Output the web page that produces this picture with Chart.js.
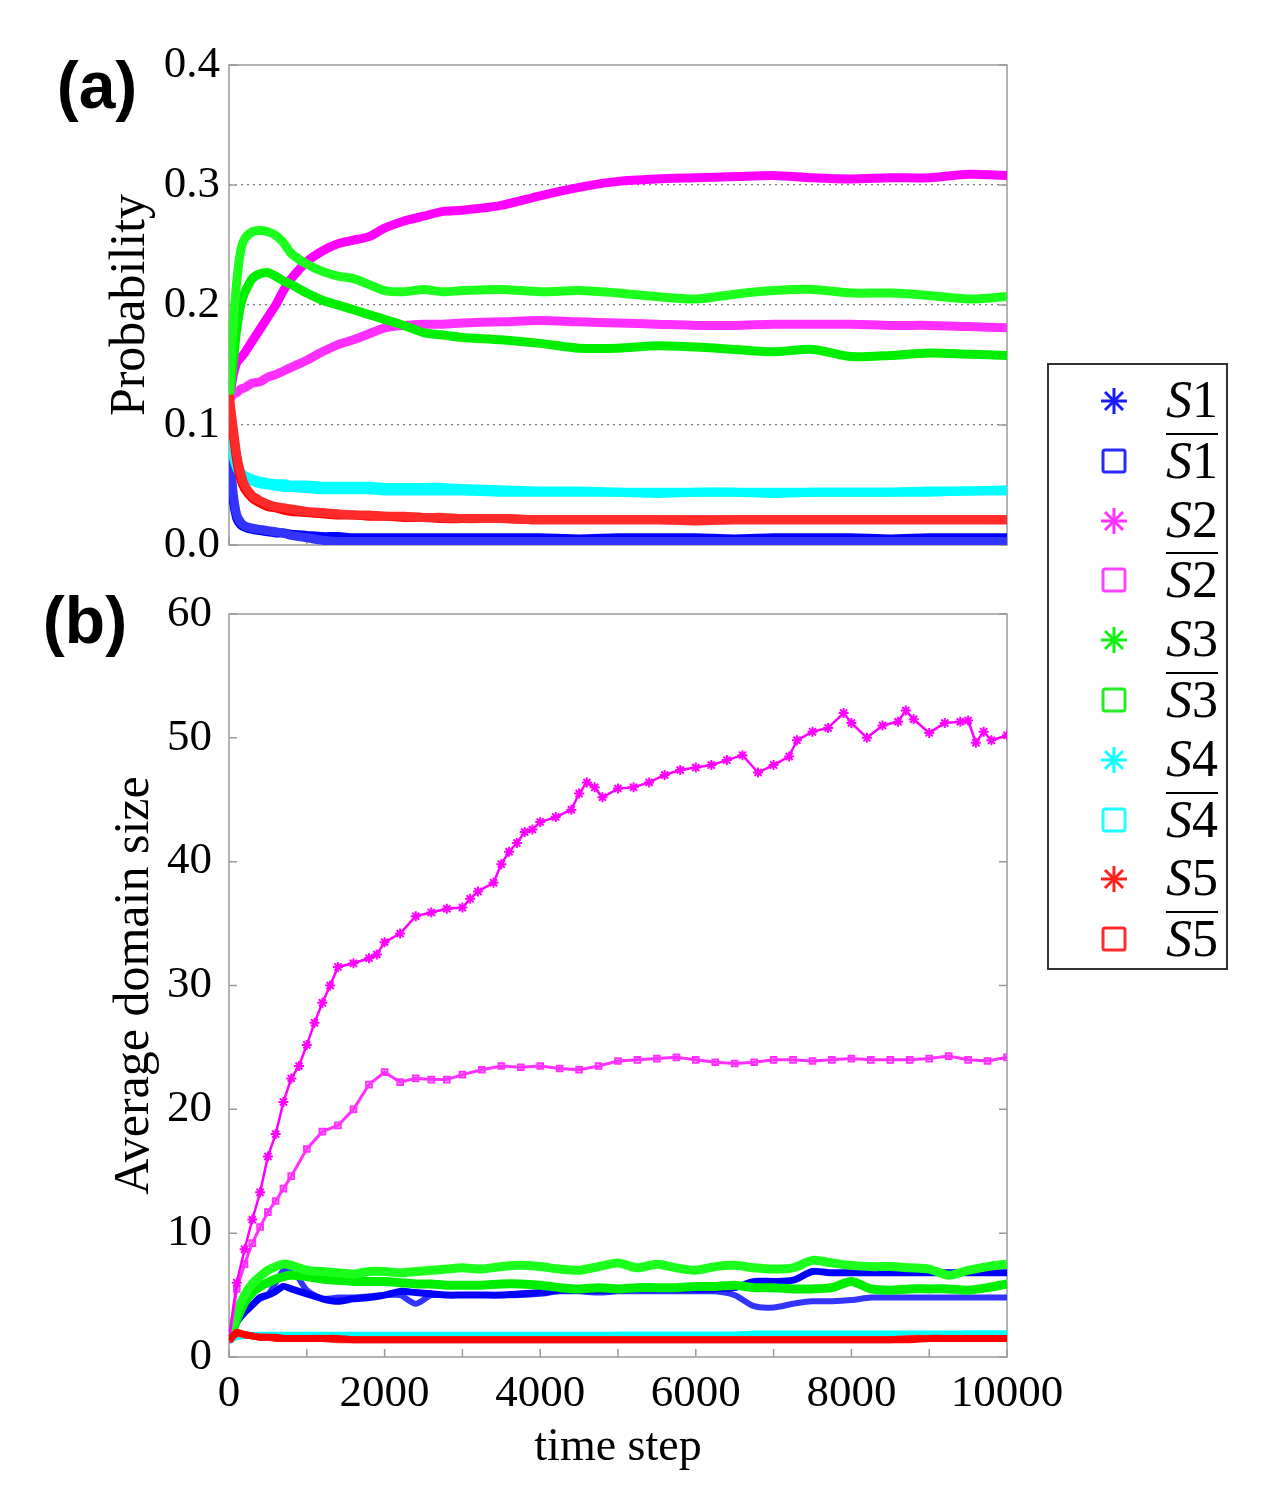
<!DOCTYPE html>
<html>
<head>
<meta charset="utf-8">
<script src="https://cdn.jsdelivr.net/npm/chart.js@4.4.0/dist/chart.umd.min.js"></script>
<style>
  body { margin: 0; background: #fff; }
  #wrap { position: relative; width: 1274px; height: 1500px; }
  canvas { position: absolute; left: 0; }
  .panel { position: absolute; font: bold 66px "Liberation Sans", Arial, sans-serif; line-height: 1; transform: translate(-50%, -50%); }
  #legend { position: absolute; left: 1047px; top: 363px; width: 177px; height: 603px; border: 2px solid #333; background: #fff; }
  .row { position: absolute; left: 0; width: 177px; height: 60px; display: flex; align-items: center; }
  .row svg { position: absolute; left: 51px; top: 17px; }
  .row .txt { position: absolute; right: 8px; font: 52px "Liberation Serif", "Times New Roman", serif; line-height: 52px; }
  .row .bar { border-top: 2.5px solid #000; }
</style>
</head>
<body>
<div id="wrap">
  <canvas id="chartA" width="1080" height="580" style="top:0"></canvas>
  <canvas id="chartB" width="1080" height="920" style="top:580px"></canvas>
  <div class="panel" style="left:97px;top:85px">(a)</div>
  <div class="panel" style="left:85px;top:620px">(b)</div>
  <div id="legend"></div>
</div>
<script>
// ---- panel (a): probability vs time step ----
const tA = [0, 50, 100, 150, 200, 300, 400, 500, 600, 700, 800, 1000, 1200, 1400, 1600, 1800, 2000,
  2250, 2500, 2750, 3000, 3500, 4000, 4500, 5000, 5500, 6000, 6500, 7000, 7500, 8000, 8500, 9000, 9500, 10000];

const pS1 = [0.085, 0.040, 0.022, 0.017, 0.015, 0.013, 0.012, 0.011, 0.010, 0.010, 0.009, 0.008, 0.007, 0.007, 0.006, 0.006, 0.006,
  0.006, 0.006, 0.006, 0.006, 0.006, 0.006, 0.005, 0.006, 0.006, 0.006, 0.005, 0.006, 0.006, 0.006, 0.005, 0.006, 0.006, 0.006];
const pS1bar = [0.085, 0.045, 0.025, 0.019, 0.016, 0.014, 0.013, 0.012, 0.011, 0.010, 0.008, 0.006, 0.004, 0.003, 0.003, 0.003, 0.003,
  0.003, 0.003, 0.003, 0.003, 0.003, 0.003, 0.003, 0.003, 0.003, 0.003, 0.003, 0.003, 0.003, 0.003, 0.003, 0.003, 0.003, 0.003];
const pS2 = [0.120, 0.140, 0.152, 0.156, 0.160, 0.170, 0.180, 0.190, 0.200, 0.212, 0.222, 0.236, 0.245, 0.251, 0.254, 0.257, 0.264,
  0.270, 0.274, 0.278, 0.279, 0.283, 0.291, 0.298, 0.303, 0.305, 0.306, 0.307, 0.308, 0.306, 0.305, 0.306, 0.306, 0.309, 0.308];
const pS2bar = [0.120, 0.125, 0.127, 0.130, 0.131, 0.135, 0.136, 0.140, 0.142, 0.145, 0.148, 0.154, 0.161, 0.167, 0.171, 0.176, 0.181,
  0.183, 0.184, 0.184, 0.185, 0.186, 0.187, 0.186, 0.185, 0.184, 0.183, 0.183, 0.184, 0.184, 0.184, 0.183, 0.183, 0.182, 0.181];
const pS3 = [0.120, 0.150, 0.180, 0.200, 0.210, 0.222, 0.226, 0.227, 0.224, 0.220, 0.217, 0.210, 0.204, 0.200, 0.196, 0.192, 0.188,
  0.183, 0.177, 0.175, 0.173, 0.171, 0.168, 0.164, 0.164, 0.166, 0.165, 0.163, 0.161, 0.163, 0.157, 0.158, 0.160, 0.159, 0.158];
const pS3bar = [0.120, 0.180, 0.220, 0.245, 0.255, 0.261, 0.262, 0.261, 0.258, 0.252, 0.243, 0.234, 0.228, 0.224, 0.222, 0.217, 0.212,
  0.211, 0.213, 0.211, 0.212, 0.213, 0.211, 0.212, 0.210, 0.207, 0.205, 0.209, 0.212, 0.213, 0.210, 0.210, 0.208, 0.205, 0.207];
const pS4 = [0.098, 0.075, 0.064, 0.059, 0.056, 0.053, 0.051, 0.050, 0.049, 0.048, 0.048, 0.047, 0.046, 0.046, 0.046, 0.046, 0.045,
  0.045, 0.045, 0.045, 0.045, 0.044, 0.044, 0.044, 0.044, 0.043, 0.044, 0.044, 0.043, 0.044, 0.044, 0.044, 0.044, 0.045, 0.045];
const pS4bar = [0.098, 0.078, 0.066, 0.061, 0.058, 0.055, 0.053, 0.052, 0.051, 0.051, 0.050, 0.050, 0.049, 0.049, 0.049, 0.049, 0.048,
  0.048, 0.048, 0.048, 0.047, 0.046, 0.045, 0.045, 0.044, 0.044, 0.044, 0.044, 0.044, 0.044, 0.044, 0.044, 0.045, 0.045, 0.046];
const pS5 = [0.125, 0.095, 0.070, 0.055, 0.047, 0.039, 0.035, 0.032, 0.031, 0.029, 0.028, 0.027, 0.026, 0.025, 0.025, 0.024, 0.024,
  0.023, 0.023, 0.022, 0.022, 0.022, 0.021, 0.021, 0.021, 0.021, 0.021, 0.021, 0.021, 0.021, 0.021, 0.021, 0.021, 0.021, 0.021];
const pS5bar = [0.125, 0.100, 0.075, 0.060, 0.050, 0.041, 0.037, 0.034, 0.032, 0.031, 0.030, 0.028, 0.027, 0.026, 0.025, 0.025, 0.024,
  0.024, 0.023, 0.023, 0.022, 0.022, 0.021, 0.021, 0.021, 0.021, 0.020, 0.021, 0.021, 0.021, 0.021, 0.021, 0.021, 0.021, 0.021];

// ---- panel (b): average domain size vs time step ----
const tB = [0, 100, 200, 300, 400, 500, 600, 700, 800,
  1000, 1200, 1400, 1600, 1800, 2000, 2200, 2400, 2600, 2800, 3000,
  3250, 3500, 3750, 4000, 4250, 4500, 4750,
  5000, 5250, 5500, 5750, 6000, 6250, 6500,
  6750, 7000, 7250, 7500, 7750, 8000, 8250,
  8500, 8750, 9000, 9250, 9500, 9750, 10000];

const dS1 = [1.3, 2.8, 3.6, 4.2, 4.8, 5.0, 5.3, 5.7, 5.5,
  5.1, 4.7, 4.5, 4.7, 4.8, 5.0, 5.3, 5.2, 5.1, 5.0, 5.0,
  5.0, 5.0, 5.1, 5.2, 5.4, 5.4, 5.4,
  5.4, 5.5, 5.5, 5.5, 5.5, 5.5, 5.6,
  6.1, 6.1, 6.2, 6.9, 6.8, 6.8, 6.8,
  6.8, 6.8, 6.8, 6.8, 6.8, 6.8, 6.8];
const dS1bar = [1.3, 2.8, 3.6, 4.2, 4.7, 5.0, 6.0, 7.0, 7.2,
  5.4, 4.7, 4.8, 4.8, 4.9, 5.0, 5.0, 4.3, 5.0, 5.0, 5.0,
  5.0, 5.0, 5.0, 5.1, 5.3, 5.3, 5.2,
  5.3, 5.3, 5.3, 5.3, 5.3, 5.3, 5.0,
  4.1, 4.0, 4.3, 4.5, 4.5, 4.6, 4.8,
  4.8, 4.8, 4.8, 4.8, 4.8, 4.8, 4.8];
const dS2bar = [1.5, 5.5, 7.5, 9.2, 10.5, 11.7, 12.6, 13.6, 14.6,
  16.8, 18.2, 18.7, 20.0, 22.0, 23.0, 22.2, 22.5, 22.4, 22.4, 22.8,
  23.2, 23.5, 23.4, 23.5, 23.3, 23.2, 23.5,
  23.9, 24.0, 24.1, 24.2, 24.0, 23.8, 23.7,
  23.8, 24.0, 24.0, 23.9, 24.0, 24.1, 24.0,
  24.0, 24.0, 24.1, 24.3, 24.0, 23.9, 24.2];
const dS3 = [1.3, 3.0, 4.4, 5.2, 5.7, 6.0, 6.3, 6.5, 6.6,
  6.5, 6.3, 6.2, 6.1, 6.1, 6.1, 6.0, 5.9, 5.9, 5.8, 5.8,
  5.8, 5.9, 5.9, 5.8, 5.6, 5.5, 5.6,
  5.5, 5.6, 5.6, 5.6, 5.7, 5.7, 5.8,
  5.6, 5.6, 5.5, 5.5, 5.6, 6.1, 5.5,
  5.4, 5.5, 5.5, 5.5, 5.4, 5.6, 5.9];
const dS3bar = [1.3, 3.5, 5.0, 5.9, 6.5, 7.0, 7.3, 7.5, 7.4,
  7.0, 6.9, 6.8, 6.7, 6.9, 6.9, 6.8, 6.9, 7.0, 7.1, 7.2,
  7.1, 7.3, 7.4, 7.3, 7.1, 7.0, 7.3,
  7.6, 7.2, 7.5, 7.2, 7.0, 7.3, 7.4,
  7.2, 7.1, 7.2, 7.8, 7.6, 7.4, 7.3,
  7.3, 7.2, 7.1, 6.6, 7.0, 7.3, 7.5];
const dS4 = [1.3, 1.6, 1.7, 1.7, 1.7, 1.7, 1.7, 1.7, 1.7,
  1.7, 1.7, 1.7, 1.7, 1.7, 1.7, 1.7, 1.7, 1.7, 1.7, 1.7,
  1.7, 1.7, 1.7, 1.7, 1.7, 1.7, 1.7,
  1.8, 1.8, 1.8, 1.8, 1.8, 1.8, 1.8,
  1.8, 1.8, 1.8, 1.8, 1.8, 1.8, 1.8,
  1.8, 1.8, 1.8, 1.8, 1.9, 1.9, 1.9];
const dS4bar = [1.3, 1.7, 1.8, 1.8, 1.8, 1.8, 1.8, 1.8, 1.8,
  1.8, 1.8, 1.8, 1.8, 1.8, 1.8, 1.8, 1.8, 1.8, 1.8, 1.8,
  1.8, 1.8, 1.8, 1.8, 1.8, 1.8, 1.8,
  1.8, 1.8, 1.8, 1.8, 1.8, 1.8, 1.8,
  1.9, 1.9, 1.9, 1.9, 1.9, 1.9, 1.9,
  1.9, 1.9, 1.9, 1.9, 1.9, 1.9, 1.9];
const dS5 = [1.3, 2.0, 1.8, 1.7, 1.6, 1.6, 1.6, 1.5, 1.5,
  1.5, 1.5, 1.5, 1.4, 1.4, 1.4, 1.4, 1.4, 1.4, 1.4, 1.4,
  1.4, 1.4, 1.4, 1.4, 1.4, 1.4, 1.4,
  1.4, 1.4, 1.4, 1.4, 1.4, 1.4, 1.4,
  1.4, 1.4, 1.4, 1.4, 1.4, 1.4, 1.4,
  1.4, 1.4, 1.5, 1.5, 1.5, 1.5, 1.5];
const dS5bar = [1.3, 1.9, 1.8, 1.7, 1.6, 1.6, 1.5, 1.5, 1.5,
  1.5, 1.5, 1.4, 1.4, 1.4, 1.4, 1.4, 1.4, 1.4, 1.4, 1.4,
  1.4, 1.4, 1.4, 1.4, 1.4, 1.4, 1.4,
  1.4, 1.4, 1.4, 1.4, 1.4, 1.4, 1.4,
  1.4, 1.4, 1.4, 1.4, 1.4, 1.4, 1.4,
  1.4, 1.5, 1.5, 1.5, 1.5, 1.5, 1.5];

// S2 (stars) in panel (b) jumps around, so it has its own time axis
const tS2 = [0, 100, 200, 300, 400, 500, 600, 700, 800, 900, 1000, 1100, 1200, 1300, 1400,
  1600, 1800, 1900, 2000, 2200, 2400, 2600, 2800, 3000,
  3100, 3200, 3400, 3500, 3600, 3700, 3800, 3900, 4000,
  4200, 4400, 4500, 4600, 4700, 4800, 5000,
  5200, 5400, 5600, 5800, 6000, 6200, 6400, 6600, 6800, 7000,
  7200, 7300, 7500, 7700, 7900, 8000,
  8200, 8400, 8600, 8700, 8800, 9000,
  9200, 9400, 9500, 9600, 9700, 9800, 10000];
const dS2 = [1.5, 6, 8.7, 11.1, 13.3, 16.2, 18, 20.6, 22.5, 23.5, 25.2, 27, 28.6, 30, 31.5,
  31.8, 32.2, 32.5, 33.5, 34.2, 35.6, 35.9, 36.2, 36.3,
  37, 37.6, 38.3, 39.8, 40.8, 41.5, 42.4, 42.6, 43.2,
  43.6, 44.2, 45.5, 46.4, 46, 45.2, 45.9,
  46, 46.4, 47, 47.4, 47.6, 47.8, 48.2, 48.6, 47.2, 47.8,
  48.5, 49.8, 50.5, 50.8, 52, 51.2,
  50, 51, 51.3, 52.2, 51.5, 50.4,
  51.2, 51.3, 51.4, 49.6, 50.5, 49.8, 50.2];

const xTicksB = [0, 2000, 4000, 6000, 8000, 10000];

const BLUE = '#0000ff', BLUE2 = '#3434ff', MAG = '#ff00ff', MAG2 = '#ff30ff';
const GRN = '#00ee00', GRN2 = '#1cff1c', CYA = '#00ffff', RED = '#ff0000', RED2 = '#ff2a2a';

const serif = '"Liberation Serif", "Times New Roman", serif';

function line(t, v, color, width, order) {
  return {
    data: t.map((x, i) => ({ x, y: v[i] })),
    borderColor: color, backgroundColor: color,
    borderWidth: width, pointRadius: 0, tension: 0.25, order
  };
}

// box round the plot area plus inward tick marks
const frame = {
  id: 'frame',
  beforeDatasetsDraw(chart) {
    const { ctx, chartArea: a, scales: { x, y } } = chart;
    ctx.save();
    ctx.strokeStyle = '#9a9a9a';
    ctx.lineWidth = 1.5;
    ctx.strokeRect(a.left, a.top, a.right - a.left, a.bottom - a.top);
    ctx.beginPath();
    x.ticks.forEach(t => {
      const px = x.getPixelForValue(t.value);
      ctx.moveTo(px, a.bottom); ctx.lineTo(px, a.bottom - 8);
    });
    y.ticks.forEach(t => {
      const py = y.getPixelForValue(t.value);
      ctx.moveTo(a.left, py); ctx.lineTo(a.left + 8, py);
      ctx.moveTo(a.right, py); ctx.lineTo(a.right - 8, py);
    });
    ctx.stroke();
    ctx.restore();
  }
};

function fixPad(s) { s.paddingLeft = 0; s.paddingRight = 0; s.paddingTop = 0; s.paddingBottom = 0; }

Chart.defaults.font.family = serif;
Chart.defaults.color = '#000';

new Chart(document.getElementById('chartA'), {
  type: 'line',
  data: {
    datasets: [
      line(tA, pS1, BLUE, 9, 10),
      line(tA, pS1bar, BLUE2, 9, 9),
      line(tA, pS2, MAG, 9, 8),
      line(tA, pS2bar, MAG2, 9, 7),
      line(tA, pS3, GRN, 9, 6),
      line(tA, pS3bar, GRN2, 9, 5),
      line(tA, pS4, CYA, 9, 4),
      line(tA, pS4bar, CYA, 9, 3),
      line(tA, pS5, RED, 9, 2),
      line(tA, pS5bar, RED2, 9, 1)
    ]
  },
  options: {
    responsive: false, animation: false, devicePixelRatio: 1,
    layout: { padding: { left: 0, right: 73, top: 65, bottom: 0 } },
    plugins: { legend: { display: false }, tooltip: { enabled: false } },
    scales: {
      x: {
        type: 'linear', min: 0, max: 10000,
        ticks: { stepSize: 1000, autoSkip: false, maxRotation: 0, callback: () => '' },
        grid: { display: false },
        border: { display: false },
        afterFit: s => { s.height = 35; fixPad(s); }
      },
      y: {
        min: 0, max: 0.4,
        ticks: { stepSize: 0.1, padding: 9, font: { size: 45 }, callback: v => v.toFixed(1) },
        grid: {
          drawTicks: false, lineWidth: 1.2,
          color: c => (c.tick.value > 0.01 && c.tick.value < 0.39) ? '#7a7a7a' : 'rgba(0,0,0,0)'
        },
        border: { display: false, dash: [2, 4] },
        title: { display: true, text: 'Probability', font: { size: 50 }, padding: { top: 101, bottom: 0 } },
        afterFit: s => { s.width = 229; fixPad(s); }
      }
    }
  },
  plugins: [frame]
});

const s2star = line(tS2, dS2, MAG, 2.5, 3);
Object.assign(s2star, { pointRadius: 5, pointStyle: 'star', pointBorderWidth: 2, tension: 0 });
const s2box = line(tB, dS2bar, MAG2, 3, 4);
Object.assign(s2box, { pointRadius: 4, pointStyle: 'rect', pointBorderWidth: 2, pointBackgroundColor: 'rgba(0,0,0,0)', tension: 0 });

new Chart(document.getElementById('chartB'), {
  type: 'line',
  data: {
    datasets: [
      line(tB, dS1, BLUE, 7, 8),
      line(tB, dS1bar, BLUE2, 6, 9),
      s2star,
      s2box,
      line(tB, dS3, GRN, 9, 6),
      line(tB, dS3bar, GRN2, 9, 5),
      line(tB, dS4, CYA, 6, 2),
      line(tB, dS4bar, CYA, 6, 2),
      line(tB, dS5, RED, 7, 1),
      line(tB, dS5bar, RED2, 7, 1)
    ]
  },
  options: {
    responsive: false, animation: false, devicePixelRatio: 1,
    layout: { padding: { left: 0, right: 73, top: 34, bottom: 0 } },
    plugins: { legend: { display: false }, tooltip: { enabled: false } },
    scales: {
      x: {
        type: 'linear', min: 0, max: 10000,
        ticks: {
          stepSize: 1000, autoSkip: false, maxRotation: 0, padding: 2, font: { size: 45 },
          callback: v => xTicksB.includes(v) ? String(v) : ''
        },
        grid: { display: false },
        border: { display: false },
        title: { display: true, text: 'time step', font: { size: 46 }, padding: { top: 0, bottom: 24 } },
        afterFit: s => { s.height = 143; fixPad(s); }
      },
      y: {
        min: 0, max: 60,
        ticks: { stepSize: 10, padding: 9, font: { size: 45 } },
        grid: { display: false },
        border: { display: false },
        title: { display: true, text: 'Average domain size', font: { size: 50 }, padding: { top: 105, bottom: 0 } },
        afterFit: s => { s.width = 229; fixPad(s); }
      }
    }
  },
  plugins: [frame]
});

// ---- legend ----
const legendColors = ['#1a1aff', '#2a2aff', '#ff33ff', '#ff44ff', '#11ee11', '#22ee22', '#11ffff', '#22ffff', '#ff2020', '#ff2a2a'];
const legendNames = ['1', '1', '2', '2', '3', '3', '4', '4', '5', '5'];
const legend = document.getElementById('legend');
legendNames.forEach((n, i) => {
  const isBar = i % 2 === 1;
  const c = legendColors[i];
  const mark = isBar
    ? `<svg width="28" height="28"><rect x="3" y="3" width="22" height="22" rx="2" fill="none" stroke="${c}" stroke-width="3"/></svg>`
    : `<svg width="28" height="28" stroke="${c}" stroke-width="3"><line x1="14" y1="1" x2="14" y2="27"/><line x1="1" y1="14" x2="27" y2="14"/><line x1="5" y1="5" x2="23" y2="23"/><line x1="23" y1="5" x2="5" y2="23"/></svg>`;
  const row = document.createElement('div');
  row.className = 'row';
  row.style.top = (5 + i * 59.8) + 'px';
  row.innerHTML = mark + `<span class="txt${isBar ? ' bar' : ''}"><i>S</i>${n}</span>`;
  legend.appendChild(row);
});
</script>
</body>
</html>
